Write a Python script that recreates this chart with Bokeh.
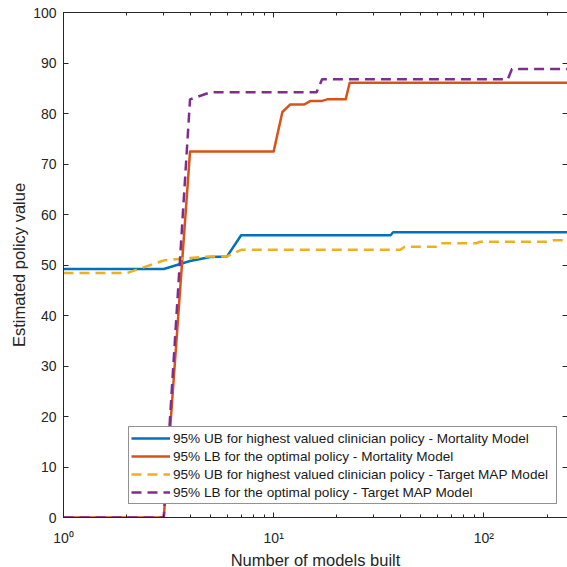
from bokeh.plotting import figure
from bokeh.models import FixedTicker, LogAxis, LinearAxis, Legend, LegendItem, Range1d
from bokeh.embed import file_html
from bokeh.resources import INLINE

# ---- data ----
x_ub_mort = [1, 2, 3, 4, 5, 6, 7, 36, 37, 250]
y_ub_mort = [49.2, 49.2, 49.2, 50.8, 51.6, 51.7, 55.9, 55.9, 56.5, 56.5]

x_lb_mort = [1, 2, 3, 4, 10, 11, 12, 14, 15, 17, 18, 22, 23, 250]
y_lb_mort = [0, 0, 0, 72.5, 72.5, 80.3, 81.8, 81.8, 82.5, 82.5, 82.8, 82.8, 86.1, 86.1]

x_ub_map = [1, 2, 3, 4, 5, 6, 7, 40, 42, 59, 61, 92, 96, 205, 215, 250]
y_ub_map = [48.4, 48.4, 50.9, 51.4, 51.7, 51.7, 53.0, 53.0, 53.6, 53.6, 54.3, 54.3, 54.6, 54.6, 54.9, 54.9]

x_lb_map = [1, 2, 3, 4, 5, 16, 17, 130, 136, 250]
y_lb_map = [0, 0, 0, 82.8, 84.2, 84.2, 86.8, 86.8, 88.8, 88.8]

series_labels = [
    "95% UB for highest valued clinician policy - Mortality Model",
    "95% LB for the optimal policy - Mortality Model",
    "95% UB for highest valued clinician policy - Target MAP Model",
    "95% LB for the optimal policy - Target MAP Model",
]
series_colors = ["#0072BD", "#D95319", "#EDB120", "#7E2F8E"]

x_major_ticks = [1, 10, 100]
x_tick_labels = ["10\u2070", "10\u00b9", "10\u00b2"]
x_minor_ticks = [2, 3, 4, 5, 6, 7, 8, 9, 20, 30, 40, 50, 60, 70, 80, 90, 200]
y_ticks = [0, 10, 20, 30, 40, 50, 60, 70, 80, 90, 100]

x_label = "Number of models built"
y_label = "Estimated policy value"

FONT = "Liberation Sans"
AX = "#262626"

p = figure(
    x_axis_type="log",
    x_range=Range1d(1, 250),
    y_range=Range1d(0, 100),
    frame_width=504,
    frame_height=505,
    output_backend="svg",
    toolbar_location=None,
    background_fill_color="white",
    border_fill_color="white",
)
p.margin = (7, 0, 0, 7)
p.xgrid.visible = False
p.ygrid.visible = False
p.outline_line_color = AX

xt = FixedTicker(ticks=x_major_ticks, minor_ticks=x_minor_ticks)
yt = FixedTicker(ticks=y_ticks, minor_ticks=[])


def style_axis(ax, labels=True):
    ax.axis_line_color = AX
    ax.major_tick_line_color = AX
    ax.minor_tick_line_color = AX
    ax.major_tick_in = 5
    ax.major_tick_out = 0
    ax.minor_tick_in = 3
    ax.minor_tick_out = 0
    ax.major_label_text_font = FONT
    ax.major_label_text_color = AX
    ax.major_label_text_font_size = "14px"
    ax.axis_label_text_font = FONT
    ax.axis_label_text_font_style = "normal"
    ax.axis_label_text_color = AX
    ax.axis_label_text_font_size = "16.5px"
    if not labels:
        ax.major_label_text_font_size = "1px"
        ax.major_label_text_alpha = 0
        ax.major_label_standoff = 0


xa = p.xaxis[0]
xa.ticker = xt
xa.major_label_overrides = {v: s for v, s in zip(x_major_ticks, x_tick_labels)}
xa.axis_label = x_label
style_axis(xa)
xa.major_label_standoff = 12
xa.axis_label_standoff = 2

ya = p.yaxis[0]
ya.ticker = yt
ya.axis_label = y_label
style_axis(ya)
ya.major_label_standoff = 7
ya.axis_label_standoff = 2

top = LogAxis(ticker=xt)
style_axis(top, labels=False)
p.add_layout(top, "above")

right = LinearAxis(ticker=yt)
style_axis(right, labels=False)
p.add_layout(right, "right")

xs = [x_ub_mort, x_lb_mort, x_ub_map, x_lb_map]
ys = [y_ub_mort, y_lb_mort, y_ub_map, y_lb_map]
dashes = ["solid", "solid", "10 6", "10 6"]
items = []
for xv, yv, c, d, lab in zip(xs, ys, series_colors, dashes, series_labels):
    r = p.line(xv, yv, line_color=c, line_width=2.5, line_dash=d, line_join="round")
    items.append(LegendItem(label=lab, renderers=[r]))

legend = Legend(
    items=items,
    location=(65, 13),
    label_text_font=FONT,
    label_text_font_size="13.6px",
    label_text_color="#1a1a1a",
    label_height=18,
    label_width=381,
    glyph_height=18,
    glyph_width=39,
    label_standoff=3,
    spacing=0,
    padding=2,
    margin=0,
    border_line_color=AX,
    border_line_width=1,
    background_fill_color="white",
    background_fill_alpha=1.0,
)
p.add_layout(legend, "center")

open("out.html", "w").write(file_html(p, INLINE))
